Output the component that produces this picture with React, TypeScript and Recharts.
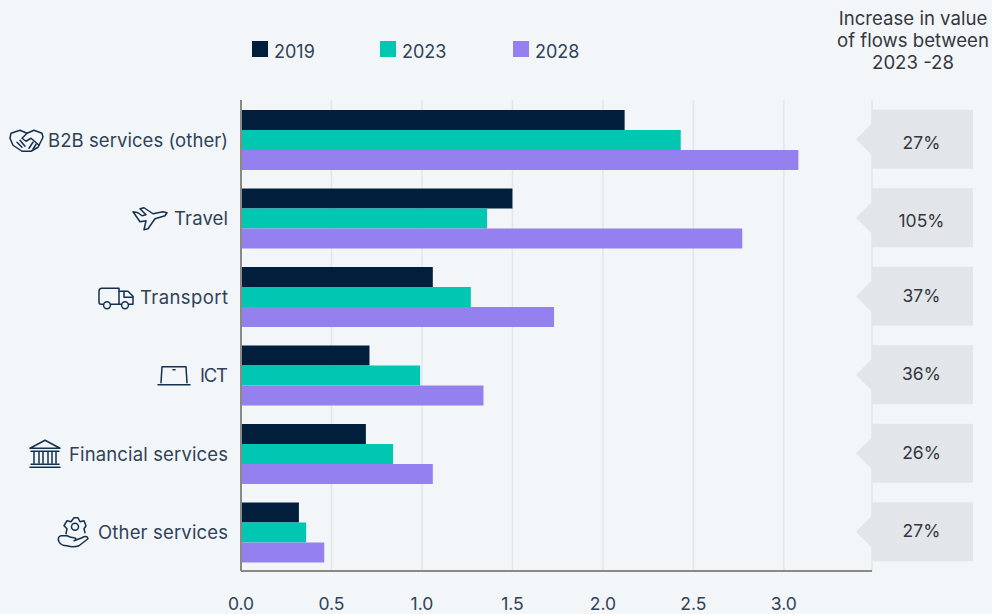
import React from "react";
import { BarChart, Bar, XAxis, YAxis, CartesianGrid, Legend } from "recharts";

const categories = ["B2B services (other)", "Travel", "Transport", "ICT", "Financial services", "Other services"];
const values2019 = [2.12, 1.5, 1.06, 0.71, 0.69, 0.32];
const values2023 = [2.43, 1.36, 1.27, 0.99, 0.84, 0.36];
const values2028 = [3.08, 2.77, 1.73, 1.34, 1.06, 0.46];
const increases = ["27%", "105%", "37%", "36%", "26%", "27%"];
const xTicks = [0, 0.5, 1, 1.5, 2, 2.5, 3];
const seriesNames = ["2019", "2023", "2028"];
const colors = ["#011E3C", "#00C7B1", "#9580F0"];
const headerLines = ["Increase in value", "of flows between", "2023 -28"];

const data = categories.map((category, i) => ({
  category,
  v2019: values2019[i],
  v2023: values2023[i],
  v2028: values2028[i],
  increase: increases[i],
}));

const FONT = "Inter, 'Noto Sans', sans-serif";
const BG = "#F3F6F9";
const INK = "#2F4258";
const ICON = "#14304F";
const labelWidths = [180, 54, 88, 28, 159, 130];
const calloutTextShift = [4, 3, 0, -1, 0, -1];

function Icon({ name }: { name: string }) {
  const common = { fill: "none", stroke: ICON, strokeWidth: 1.5, strokeLinejoin: "round" as const, strokeLinecap: "round" as const };
  switch (name) {
    case "B2B services (other)":
      return (
        <g {...common} transform="translate(-5,0)">
          <path d="M-31 -7 L-22 -10 L-15 -7 L-8 -10 L0 -7 L1 -3 L-4 7 L-11 11 L-20 11 L-29 5 L-32 -2 Z" />
          <path d="M-15 -7 L-20 -2 L-16 1 L-11 -2 L-3 5" />
          <path d="M-25 2 L-20 7 M-22 0 L-17 6 M-9 2 L-13 8 M-6 4 L-9 9" />
        </g>
      );
    case "Travel":
      return (
        <g {...common}>
          <path d="M-40 -7 L-35 -6 L-31 -3 L-27 -4 L-33 -10 L-29 -11 L-20 -5 L-10 -7 L-6 -6 L-8 -3 L-18 0 L-25 10 L-29 11 L-27 2 L-33 3 Z" />
        </g>
      );
    case "Transport":
      return (
        <g {...common}>
          <path d="M-36 7 L-38 7 Q-40 7 -40 5 L-40 -6 Q-40 -9 -37 -9 L-20 -9 L-20 7 L-28 7" />
          <path d="M-20 -6 L-11 -6 L-6 -1 L-6 7 L-10 7 M-18 7 L-20 7" />
          <circle cx="-32" cy="8" r="3.4" />
          <circle cx="-14" cy="8" r="3.4" />
          <path d="M-15 -6 L-15 0 L-6 0" />
        </g>
      );
    case "ICT":
      return (
        <g {...common}>
          <path d="M-38 7 L-37 -9 L-13 -9 L-12 7" />
          <path d="M-41 9 L-9 9" />
          <path d="M-26 -6 L-24 -6" />
        </g>
      );
    case "Financial services":
      return (
        <g {...common}>
          <path d="M-38 -6 L-23 -14 L-8 -6 Z" />
          <path d="M-37 -3 L-9 -3 M-37 10 L-9 10 M-38 13 L-8 13" />
          <path d="M-34 -2 L-34 9 M-29 -2 L-29 9 M-25 -2 L-25 9 M-20 -2 L-20 9 M-16 -2 L-16 9 M-12 -2 L-12 9" />
        </g>
      );
    default:
      return (
        <g {...common}>
          <circle cx="-22" cy="-6" r="3.5" />
          <path d="M-31 1 L-30 -4 L-33 -7 L-30 -12 L-26 -11 L-23 -15 L-19 -15 L-17 -11 L-13 -12 L-11 -7 L-13 -4 L-12 0" />
          <path d="M-38 9 Q-40 4 -36 3 L-30 3 Q-26 5 -23 5 Q-19 6 -23 8 L-15 5 Q-10 2 -9 6 L-18 13 Q-24 15 -30 13 Q-36 13 -38 9 Z" />
        </g>
      );
  }
}

const CategoryTick = (props: any) => {
  const { x, y, payload } = props;
  const label: string = payload.value;
  const w = labelWidths[categories.indexOf(label)];
  return (
    <g transform={`translate(${x},${y})`}>
      <text x={-w} y={1.5} dy={6} textAnchor="start" fontFamily={FONT} fontSize={18.5} fill={INK} textLength={w} lengthAdjust="spacing">
        {label}
      </text>
      <g transform={`translate(${-w - 1},1)`}>
        <Icon name={label} />
      </g>
    </g>
  );
};

const CalloutTick = (props: any) => {
  const { x, y, payload } = props;
  const idx = categories.indexOf(payload.value);
  return (
    <g transform={`translate(${x - 6},${y})`}>
      <path d="M0 -29.5 L101 -29.5 L101 29.5 L0 29.5 L0 16 L-16 0 L0 -16 Z" fill="#E3E6E9" />
      <text x={49.5} y={calloutTextShift[idx]} dy={6} textAnchor="middle" fontFamily={FONT} fontSize={17.5} fill="#33383E">
        {increases[idx]}
      </text>
    </g>
  );
};

const LegendContent = () => (
  <div style={{ position: "relative", height: 20 }}>
    {seriesNames.map((name, i) => (
      <div key={name} style={{ position: "absolute", left: [0, 128, 261][i], top: 0, display: "flex", alignItems: "center", fontFamily: FONT, fontSize: 18, color: INK, lineHeight: "20px" }}>
        <span style={{ width: 16, height: 16, background: colors[i], marginRight: 6, display: "inline-block", transform: "translateY(-3px)" }} />
        {name}
      </div>
    ))}
  </div>
);

export default function App() {
  return (
    <div style={{ position: "absolute", left: 0, top: 0, width: 992, height: 614, background: BG, overflow: "hidden" }}>
      <BarChart
        width={992}
        height={614}
        data={data}
        layout="vertical"
        margin={{ top: 80, right: 0, bottom: 0, left: 0 }}
        barCategoryGap={10}
        barGap={0}
      >
        <CartesianGrid horizontal={false} stroke="#E3E6E8" strokeWidth={1.5} />
        <XAxis
          type="number"
          domain={[0, 3.487]}
          ticks={xTicks}
          tickFormatter={(v: number) => v.toFixed(1)}
          height={43}
          axisLine={{ stroke: "#8A8A85", strokeWidth: 2 }}
          tickLine={false}
          tick={{ fontFamily: FONT, fontSize: 17.5, fill: INK }}
          tickMargin={21}
        />
        <YAxis
          yAxisId="left"
          type="category"
          dataKey="category"
          width={241}
          axisLine={{ stroke: "#8A8A85", strokeWidth: 2 }}
          tickLine={false}
          tick={<CategoryTick />}
          tickMargin={7}
          interval={0}
        />
        <YAxis
          yAxisId="right"
          orientation="right"
          type="category"
          dataKey="category"
          width={120}
          axisLine={false}
          tickLine={false}
          tick={<CalloutTick />}
          tickMargin={0}
          interval={0}
        />
        <Legend
          verticalAlign="top"
          align="left"
          content={<LegendContent />}
          wrapperStyle={{ position: "absolute", left: 252, top: 42, width: 400 }}
        />
        <Bar yAxisId="left" dataKey="v2019" name="2019" fill={colors[0]} isAnimationActive={false} />
        <Bar yAxisId="left" dataKey="v2023" name="2023" fill={colors[1]} isAnimationActive={false} />
        <Bar yAxisId="left" dataKey="v2028" name="2028" fill={colors[2]} isAnimationActive={false} />
      </BarChart>
      <div style={{ position: "absolute", left: 820, top: 7, width: 186, textAlign: "center", fontFamily: FONT, fontSize: 18.6, lineHeight: "22px", color: "#33383E" }}>
        {headerLines.map((l) => (
          <div key={l}>{l}</div>
        ))}
      </div>
    </div>
  );
}
